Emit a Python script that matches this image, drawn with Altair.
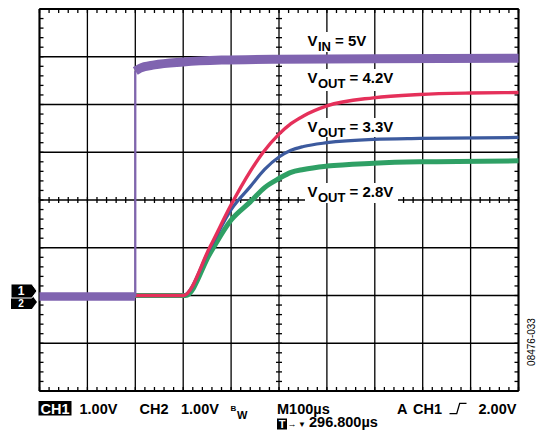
import altair as alt
import pandas as pd

# ---------------- data (time in µs, volts relative to ground marker) ----------------
vin_pre_t = [0, 200]
vin_pre_v = [-0.02, -0.02]
vin_t = [200, 210, 240, 300, 380, 500, 700, 1000]
vin_v = [4.70, 4.76, 4.83, 4.89, 4.93, 4.95, 4.96, 4.97]

red_t = [190, 300, 356, 400, 440, 467, 500, 525, 551, 600, 697, 794, 900, 1000]
red_v = [0.0, 0.0, 1.02, 1.90, 2.60, 3.00, 3.38, 3.60, 3.76, 3.97, 4.14, 4.21, 4.24, 4.25]

blue_t = [190, 300, 356, 400, 440, 470, 500, 525, 551, 600, 697, 794, 1000]
blue_v = [0.0, 0.0, 0.99, 1.80, 2.28, 2.64, 2.90, 3.04, 3.12, 3.20, 3.27, 3.29, 3.31]

green_t = [190, 305, 356, 400, 440, 470, 500, 525, 551, 600, 697, 794, 1000]
green_v = [0.0, 0.0, 0.88, 1.58, 1.96, 2.26, 2.45, 2.58, 2.64, 2.71, 2.77, 2.80, 2.82]

x_divs = [0, 100, 200, 300, 400, 500, 600, 700, 800, 900, 1000]
y_divs = [-2, -1, 0, 1, 2, 3, 4, 5, 6]

PURPLE = "#8064B0"
RED = "#E5305A"
BLUE = "#3C5A9E"
GREEN = "#2FA065"

W, H = 479, 382
OX, OY = 39.5, 9.0  # page position of the plot origin
SVG_W, SVG_H = 529, 422  # keeps the page inside the 545x438 window
FONT = "Liberation Sans"
FS = 14.5

XS = alt.Scale(domain=[0, 1000])
YS = alt.Scale(domain=[-2, 6])


def X(f="t"):
    return alt.X(f"{f}:Q", scale=XS, axis=None)


def Y(f="v"):
    return alt.Y(f"{f}:Q", scale=YS, axis=None)


dummy = pd.DataFrame({"a": [0]})
layers = []

# ---------------- grid ----------------
layers.append(alt.Chart(pd.DataFrame({"t": x_divs})).mark_rule(color="black", strokeWidth=1.3).encode(x=X()))
layers.append(alt.Chart(pd.DataFrame({"v": y_divs})).mark_rule(color="black", strokeWidth=1.3).encode(y=Y()))
layers.append(alt.Chart(pd.DataFrame({"t": [0, 1000]})).mark_rule(color="black", strokeWidth=2).encode(x=X()))
layers.append(alt.Chart(pd.DataFrame({"v": [-2, 6]})).mark_rule(color="black", strokeWidth=2).encode(y=Y()))

minor_t = pd.DataFrame({"t": [i * 20 for i in range(51)]})
minor_v = pd.DataFrame({"v": [-2 + i * 0.2 for i in range(41)]})
TK = dict(color="black", strokeWidth=1.3)
cx, cy = W / 2, H / 2
layers.append(alt.Chart(minor_t).mark_rule(**TK).encode(x=X(), y=alt.value(0), y2=alt.value(4)))
layers.append(alt.Chart(minor_t).mark_rule(**TK).encode(x=X(), y=alt.value(H), y2=alt.value(H - 4)))
layers.append(alt.Chart(minor_t).mark_rule(**TK).encode(x=X(), y=alt.value(cy - 3), y2=alt.value(cy + 3)))
layers.append(alt.Chart(minor_v).mark_rule(**TK).encode(y=Y(), x=alt.value(0), x2=alt.value(4)))
layers.append(alt.Chart(minor_v).mark_rule(**TK).encode(y=Y(), x=alt.value(W), x2=alt.value(W - 4)))
layers.append(alt.Chart(minor_v).mark_rule(**TK).encode(y=Y(), x=alt.value(cx - 3), x2=alt.value(cx + 3)))


def box(x1, y1, x2, y2, color="white"):
    return alt.Chart(dummy).mark_rect(color=color).encode(
        x=alt.value(x1 - OX), x2=alt.value(x2 - OX), y=alt.value(y1 - OY), y2=alt.value(y2 - OY))


def txt(s, x, y, size=FS, weight="bold", color="black", align="left", baseline="alphabetic", angle=0):
    return alt.Chart(dummy).mark_text(
        text=s, font=FONT, fontSize=size, fontWeight=weight, color=color, align=align,
        baseline=baseline, angle=angle).encode(x=alt.value(x - OX), y=alt.value(y - OY))


# white backgrounds behind the trace labels
layers.append(box(305, 32, 369, 52))
layers.append(box(305, 69, 398, 91))
layers.append(box(305, 118, 398, 137))
layers.append(box(305, 183, 398, 203))

# ---------------- traces ----------------
def trace(ts, vs, color, width):
    df = pd.DataFrame({"t": ts, "v": vs})
    return alt.Chart(df).mark_line(color=color, strokeWidth=width, interpolate="monotone",
                                   strokeCap="butt").encode(x=X(), y=Y())


layers.append(trace(green_t, green_v, GREEN, 5))
layers.append(trace(blue_t, blue_v, BLUE, 3.2))
layers.append(trace(red_t, red_v, RED, 3.4))
layers.append(trace(vin_pre_t, vin_pre_v, PURPLE, 8.5))
layers.append(alt.Chart(pd.DataFrame({"t": [vin_t[0]], "v": [vin_pre_v[-1]], "v2": [vin_v[0]]}))
              .mark_rule(color=PURPLE, strokeWidth=2.2).encode(x=X(), y=Y(), y2="v2:Q"))
layers.append(trace(vin_t, vin_v, PURPLE, 9))

# ---------------- trace labels ----------------
def label(sub, rest, base):
    return [
        txt("V", 307.5, base, size=15),
        txt(sub, 318, base + 5, size=13),
        txt(rest, 318 + (13 if sub == "IN" else 27.5) + 4, base, size=15),
    ]


layers += label("IN", "= 5V", 45.5)
layers += label("OUT", "= 4.2V", 83)
layers += label("OUT", "= 3.3V", 131.5)
layers += label("OUT", "= 2.8V", 196.5)

# ---------------- channel markers ----------------
MARK = "M-1,-0.54L0.6,-0.54L1,0L0.6,0.54L-1,0.54Z"
layers.append(alt.Chart(dummy).mark_point(shape=MARK, size=676, filled=True, color="black", opacity=1)
              .encode(x=alt.value(24 - OX), y=alt.value(302 - OY)))
layers.append(txt("2", 21, 304, size=10, color="white", align="center", baseline="middle"))
layers.append(alt.Chart(dummy).mark_point(shape=MARK, size=676, filled=True, fill="black", stroke="white",
                                          strokeWidth=1, opacity=1)
              .encode(x=alt.value(24 - OX), y=alt.value(291 - OY)))
layers.append(txt("1", 21, 291, size=12, color="white", align="center", baseline="middle"))

# ---------------- bottom status text ----------------
layers.append(box(38.5, 401, 71.5, 415.5, color="black"))
layers.append(txt("CH1", 55, 414, color="white", align="center"))
layers.append(txt("1.00V", 79.5, 414))
layers.append(txt("CH2", 139.5, 414))
layers.append(txt("1.00V", 181, 414))
layers.append(txt("B", 230.5, 410.5, size=8))
layers.append(txt("W", 237, 418.5, size=11))
layers.append(txt("M100µs", 277, 414))
layers.append(txt("A", 397, 414))
layers.append(txt("CH1", 413, 414))
TRIG = "M-1,0.6L-0.15,0.6L0.2,-0.6L1,-0.6"
layers.append(alt.Chart(dummy).mark_point(shape=TRIG, size=289, filled=False, color="black",
                                          strokeWidth=1.3, opacity=1)
              .encode(x=alt.value(458 - OX), y=alt.value(408.5 - OY)))
layers.append(txt("2.00V", 478.5, 414))

layers.append(box(277, 418.5, 287, 429.5, color="black"))
layers.append(txt("T", 282, 428, size=11, color="white", align="center"))
layers.append(txt("→", 292, 427, size=9, align="center"))
layers.append(txt("▼", 302, 427, size=8, align="center"))
layers.append(txt("296.800µs", 309, 427))

layers.append(txt("08476-033", 532, 342, size=10, weight="normal", align="center",
                  baseline="middle", angle=270))

chart = alt.layer(*layers).properties(
    width=W, height=H,
    padding={"left": OX - 8, "top": OY - 8, "right": SVG_W - (OX - 8) - W, "bottom": SVG_H - (OY - 8) - H},
    autosize=alt.AutoSizeParams(type="none"),
    background="white",
).configure_view(stroke=None)

chart.save("out.html", embed_options={"renderer": "svg", "actions": False})
